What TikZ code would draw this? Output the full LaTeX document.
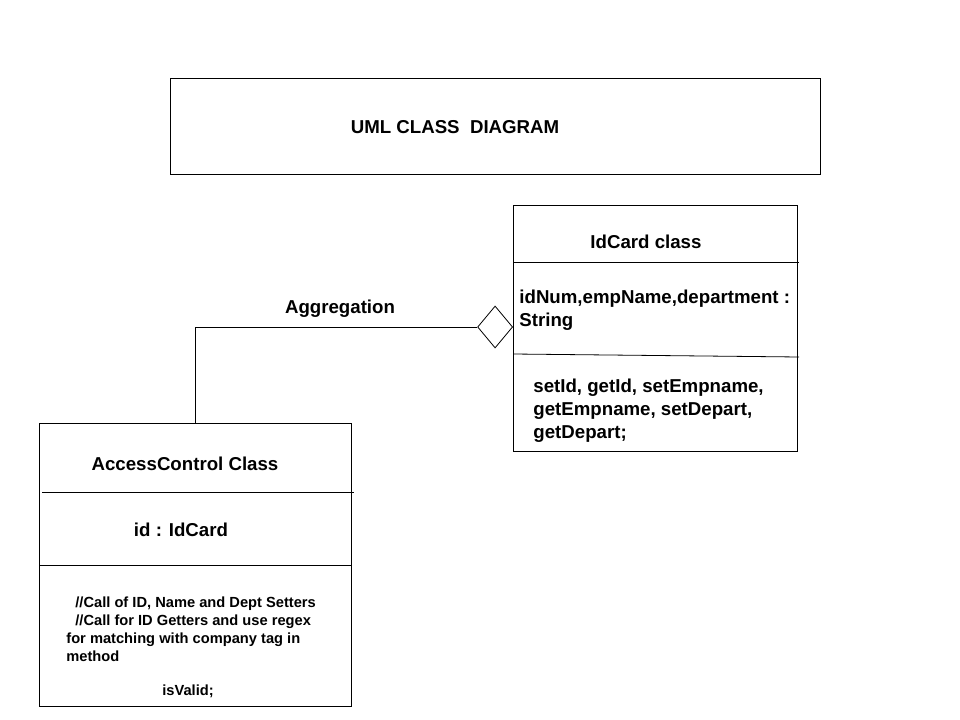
\documentclass[tikz,border=0pt]{standalone}
\usepackage{fontspec}
\setmainfont{Liberation Sans}
\usetikzlibrary{shapes.geometric}
\begin{document}
\begin{tikzpicture}[x=0.75pt,y=-0.75pt,line width=0.6pt,
  box/.style={draw,rectangle,anchor=north west,inner sep=0pt},
  lbl/.style={inner sep=0pt,font=\bfseries\fontsize{14}{16}\selectfont},
  small/.style={inner sep=0pt,font=\bfseries\fontsize{11}{13.5}\selectfont},
  dia/.style={draw,diamond,inner sep=0pt,minimum width=26.25pt,minimum height=31.5pt,fill=white}]
\useasboundingbox (0,0) rectangle (960,720);
% title
\node[box,minimum width=487.5pt,minimum height=72pt] (title) at (170,78) {};
\node[lbl] (titletext) at (455,127) {UML CLASS\ \ DIAGRAM};
% IdCard class
\node[box,minimum width=213pt,minimum height=184.5pt] (idcard) at (513,205) {};
\draw (513,262) -- (799,262);
\draw (513,354) -- (799,357);
\node[lbl] (idname) at (646,242) {IdCard class};
\node[lbl,anchor=west] (idattr1) at (519,299) {idNum,empName,department :};
\node[lbl,anchor=west] (idattr2) at (519,322) {String};
\node[lbl,anchor=west] (idm1) at (533,388) {setId, getId, setEmpname,};
\node[lbl,anchor=west] (idm2) at (533,411) {getEmpname, setDepart,};
\node[lbl,anchor=west] (idm3) at (533,434) {getDepart;};
% AccessControl class
\node[box,minimum width=234pt,minimum height=212.25pt] (acc) at (39,423) {};
\draw (42,492) -- (354,492);
\draw (39,565) -- (351,565);
\node[lbl] (accname) at (185,464) {AccessControl Class};
\node[lbl] (accattr) at (181,530) {id : IdCard};
\node[small,anchor=base west] (c1) at (75,607) {//Call of ID, Name and Dept Setters};
\node[small,anchor=base west] (c2) at (75,625) {//Call for ID Getters and use regex};
\node[small,anchor=base west] (c3) at (66,643) {for matching with company tag in};
\node[small,anchor=base west] (c4) at (66,661) {method};
\node[small,anchor=base] (c5) at (188,695) {isValid;};
% aggregation
\node[dia,anchor=east] (agg) at (513,327) {};
\draw (agg.west) -| (acc.north);
\node[lbl] (agglbl) at (340,309) {Aggregation};
\end{tikzpicture}
\end{document}
